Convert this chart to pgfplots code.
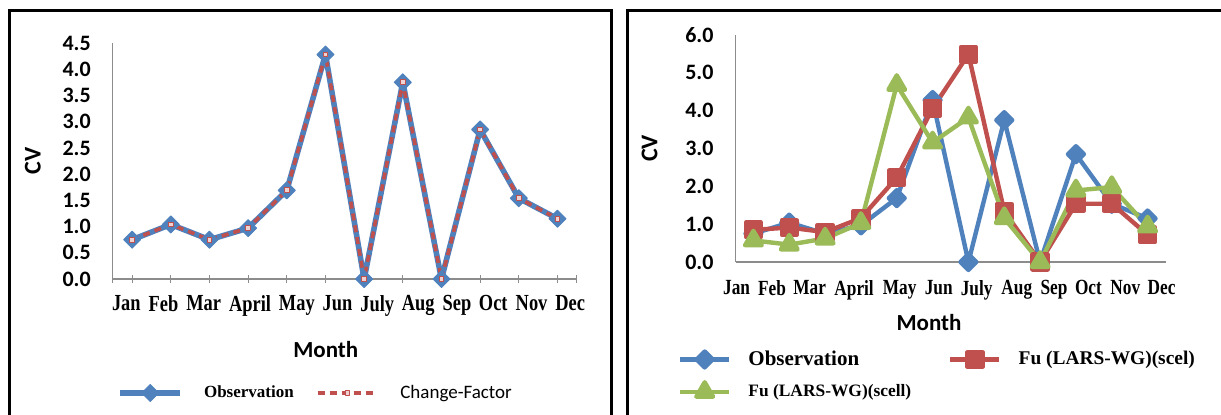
\documentclass[border=0pt]{standalone}
\usepackage{fontspec}
\usepackage{pgfplots}
\usepackage{pgfplotstable}
\pgfplotsset{compat=1.18}
\setmainfont{Carlito}
\newfontfamily\tnr{Liberation Serif}
\newfontfamily\tnrl[FakeStretch=0.8]{Liberation Serif}
\definecolor{cblue}{HTML}{4F81BD}
\definecolor{cred}{HTML}{C0504D}
\definecolor{cgreen}{HTML}{9BBB59}
\definecolor{cgray}{HTML}{8C8C8C}

\pgfplotstableread{
x obs cf
0 0.75 0.75
1 1.04 1.04
2 0.75 0.75
3 0.97 0.97
4 1.69 1.69
5 4.28 4.28
6 0.00 0.00
7 3.75 3.75
8 0.00 0.00
9 2.85 2.85
10 1.54 1.54
11 1.15 1.15
}\lefttab

\pgfplotstableread{
x obs scel scell
0 0.75 0.85 0.57
1 1.04 0.91 0.46
2 0.75 0.79 0.62
3 0.97 1.16 1.03
4 1.69 2.23 4.68
5 4.28 4.06 3.16
6 0.00 5.49 3.82
7 3.75 1.34 1.16
8 0.00 0.00 0.00
9 2.85 1.54 1.89
10 1.54 1.54 1.98
11 1.15 0.72 0.94
}\righttab

\pgfplotsset{
  cvaxis/.style={
    scale only axis,
    clip=false,
    axis lines*=left,
    axis line style={draw=cgray, line width=0.6pt},
    xmin=-0.5, xmax=11.5, ymin=0,
    xticklabels={Jan,Feb,Mar,April,May,Jun,July,Aug,Sep,Oct,Nov,Dec},
    tick align=outside,
    major tick length=0pt,
    xtick style={draw=none},
    ytick style={draw=none},
    /pgf/number format/assume math mode=true,
    yticklabel style={font=\bfseries\fontsize{11}{13}\selectfont, xshift=-7.5pt,
      /pgf/number format/.cd, fixed, fixed zerofill, precision=1},
    ylabel={CV},
    xlabel={Month},
    ylabel style={font=\bfseries\fontsize{12}{14}\selectfont, at={(axis description cs:0,0.5)}, anchor=center},
    xlabel style={font=\bfseries\fontsize{11.5}{13}\selectfont, at={(axis description cs:0.5,0)}, anchor=center},
    legend style={draw=none, fill=none, inner sep=0pt, outer sep=0pt,
      nodes={inner sep=0pt, anchor=west}},
  }
}

\begin{document}
\begin{tikzpicture}
\useasboundingbox (0pt,0pt) rectangle (610.5pt,207pt);
\begin{scope}
\clip (0pt,0pt) rectangle (610.5pt,207pt);
\begin{pgfinterruptboundingbox}
\fill[white] (0pt,0pt) rectangle (610.5pt,207pt);
\draw[line width=1.5pt] (4.5pt,-10pt) rectangle (305.5pt,202pt);
\draw[line width=1.5pt] (313.5pt,-10pt) rectangle (630pt,202pt);

% Left panel
\begin{axis}[cvaxis,
  at={(56.4pt,67.5pt)}, anchor=south west,
  width=232pt, height=118pt,
  ymax=4.5, ytick={0,0.5,...,4.5},
  xtick={-0.15,0.81,1.85,3.05,4.26,5.31,6.34,7.40,8.40,9.34,10.33,11.33},
  xticklabel style={font=\tnrl\bfseries\fontsize{11.5}{13}\selectfont, yshift=-4.5pt},
  extra x ticks={-0.5,0,1,2,3,4,5,6,7,8,9,10,11,11.5},
  extra x tick labels={},
  extra x tick style={xtick style={draw=cgray, line width=0.5pt}, tick align=center, major tick length=4pt},
  ylabel style={yshift=40pt},
  xlabel style={xshift=-9.5pt, yshift=-35.5pt},
  legend columns=2,
  legend image code/.code={\draw[mark repeat=2,mark phase=2,#1] plot coordinates {(0pt,0pt)(15pt,0pt)(30pt,0pt)};},
  legend style={at={(axis description cs:0.010,-0.483)}, anchor=west,
    /tikz/every odd column/.append style={column sep=10.5pt},
    /tikz/every even column/.append style={column sep=11pt}},
]
\addplot[cblue, line width=2.8pt, line join=round, mark=square*, mark size=3pt,
  mark options={rotate=45, solid, fill=cblue, draw=cblue, line width=0.5pt}]
  table[x=x,y=obs]{\lefttab};
\addlegendentry{\tnr\bfseries\fontsize{8.5}{10}\selectfont Observation}
\addplot[cred, line width=1.8pt, line join=round, dash pattern=on 3.5pt off 2.5pt, mark=square*, mark size=1.2pt,
  mark options={solid, fill=cred!25!white, draw=cred, line width=0.5pt}]
  table[x=x,y=cf]{\lefttab};
\addlegendentry{\fontsize{9.5}{11}\selectfont Change-Factor}
\end{axis}

% Right panel
\begin{axis}[cvaxis,
  at={(367.75pt,76pt)}, anchor=south west,
  width=215pt, height=113.5pt,
  ymax=6, ytick={0,1,...,6},
  xtick={-0.47,0.52,1.57,2.81,4.08,5.17,6.23,7.35,8.39,9.35,10.38,11.39},
  xticklabel style={font=\tnrl\bfseries\fontsize{10.8}{12}\selectfont, yshift=-5.5pt},
  ylabel style={yshift=43pt},
  xlabel style={xshift=-10.75pt, yshift=-30.5pt},
  legend columns=2,
  legend image code/.code={\draw[mark repeat=2,mark phase=2,#1] plot coordinates {(0pt,0pt)(12.25pt,0pt)(24.5pt,0pt)};},
  legend style={at={(axis description cs:-0.1337,-0.498)}, anchor=west,
    /tikz/every odd column/.append style={column sep=8.5pt},
    /tikz/every even column/.append style={column sep=18.5pt},
    row sep=7pt},
]
\addplot[cblue, line width=2.2pt, line join=round, mark=square*, mark size=2.8pt,
  mark options={rotate=45, solid, fill=cblue, draw=cblue}]
  table[x=x,y=obs]{\righttab};
\addlegendentry{\tnr\bfseries\fontsize{10.5}{12}\selectfont Observation}
\addplot[cred, line width=2.2pt, line join=round, mark=square*, mark size=3.7pt,
  mark options={solid, fill=cred, draw=cred}]
  table[x=x,y=scel]{\righttab};
\addlegendentry{\tnr\bfseries\fontsize{9.7}{11}\selectfont Fu (LARS-WG)(scel)}
\addplot[cgreen, line width=2.2pt, line join=round, mark=triangle*, mark size=4.8pt,
  mark options={solid, fill=cgreen, draw=cgreen}]
  table[x=x,y=scell]{\righttab};
\addlegendentry{\tnr\bfseries\fontsize{8.7}{10}\selectfont Fu (LARS-WG)(scell)}
\end{axis}
\end{pgfinterruptboundingbox}
\end{scope}
\end{tikzpicture}
\end{document}
